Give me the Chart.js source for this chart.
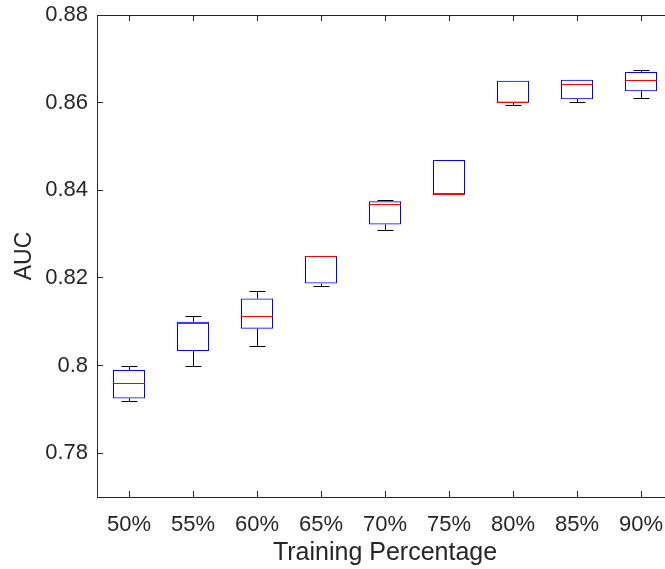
<!DOCTYPE html>
<html>
<head>
<meta charset="utf-8">
<script src="https://cdn.jsdelivr.net/npm/chart.js@4"></script>
<style>
html, body { margin: 0; padding: 0; background: #fff; overflow: hidden; }
#wrap { width: 690px; height: 569px; }
</style>
</head>
<body>
<div id="wrap"><canvas id="c" width="690" height="569"></canvas></div>
<script>
// ---- data ----
const categories = ['50%', '55%', '60%', '65%', '70%', '75%', '80%', '85%', '90%'];
const lowerWhisker = [0.7918, 0.7998, 0.8044, 0.8181, 0.8309, 0.8391, 0.8593, 0.8600, 0.8610];
const q1Values     = [0.7925, 0.8033, 0.8084, 0.8187, 0.8322, 0.8391, 0.8600, 0.8608, 0.8626];
const medianValues = [0.7958, 0.8097, 0.8113, 0.8250, 0.8367, 0.8391, 0.8601, 0.8642, 0.8650];
const q3Values     = [0.7990, 0.8100, 0.8153, 0.8250, 0.8375, 0.8469, 0.8650, 0.8652, 0.8670];
const upperWhisker = [0.7998, 0.8112, 0.8168, 0.8250, 0.8376, 0.8469, 0.8650, 0.8652, 0.8674];
const yTickValues  = [0.78, 0.80, 0.82, 0.84, 0.86, 0.88];
const yTickLabels  = ['0.78', '0.8', '0.82', '0.84', '0.86', '0.88'];
const yMin = 0.77, yMax = 0.88;

const AXIS_COLOR = '#262626';
const FONT = '"Liberation Sans", Arial, Helvetica, sans-serif';

const crisp = v => Math.floor(v) + 0.5;

const boxParts = {
  id: 'boxParts',
  beforeDatasetsDraw(chart) {
    const { ctx, scales: { x, y } } = chart;
    const catW = x.width / categories.length;
    const capHalf = catW * 0.125;
    ctx.save();
    ctx.strokeStyle = '#000000';
    ctx.lineWidth = 1;
    categories.forEach((c, i) => {
      const xc = crisp(x.getPixelForValue(i));
      const yQ3 = y.getPixelForValue(q3Values[i]);
      const yQ1 = y.getPixelForValue(q1Values[i]);
      ctx.beginPath();
      if (upperWhisker[i] - q3Values[i] > 1e-6) {
        const yUW = crisp(y.getPixelForValue(upperWhisker[i]));
        ctx.moveTo(xc, yQ3); ctx.lineTo(xc, yUW);
        ctx.moveTo(xc - capHalf, yUW); ctx.lineTo(xc + capHalf, yUW);
      }
      if (q1Values[i] - lowerWhisker[i] > 1e-6) {
        const yLW = crisp(y.getPixelForValue(lowerWhisker[i]));
        ctx.moveTo(xc, yQ1); ctx.lineTo(xc, yLW);
        ctx.moveTo(xc - capHalf, yLW); ctx.lineTo(xc + capHalf, yLW);
      }
      ctx.stroke();
    });
    ctx.restore();
  },
  afterDatasetsDraw(chart) {
    const { ctx, scales: { x, y } } = chart;
    const catW = x.width / categories.length;
    const boxHalf = catW * 0.25;
    ctx.save();
    ctx.strokeStyle = '#ff0000';
    ctx.lineWidth = 1;
    categories.forEach((c, i) => {
      const xc = x.getPixelForValue(i);
      const ym = crisp(y.getPixelForValue(medianValues[i]));
      ctx.beginPath();
      ctx.moveTo(xc - boxHalf, ym); ctx.lineTo(xc + boxHalf, ym);
      ctx.stroke();
    });
    ctx.restore();
  },
  afterDraw(chart) {
    const { ctx, chartArea: a, scales: { x, y } } = chart;
    const tl = 6;
    ctx.save();
    ctx.strokeStyle = AXIS_COLOR;
    ctx.lineWidth = 1;
    ctx.beginPath();
    ctx.moveTo(a.left, crisp(a.top)); ctx.lineTo(a.right, crisp(a.top));
    yTickValues.forEach(v => {
      const yy = crisp(y.getPixelForValue(v));
      ctx.moveTo(a.left, yy); ctx.lineTo(a.left + tl, yy);
    });
    categories.forEach((c, i) => {
      const xx = crisp(x.getPixelForValue(i));
      ctx.moveTo(xx, a.bottom); ctx.lineTo(xx, a.bottom - tl);
      ctx.moveTo(xx, a.top); ctx.lineTo(xx, a.top + tl);
    });
    ctx.stroke();
    ctx.restore();
  }
};

new Chart(document.getElementById('c'), {
  type: 'bar',
  data: {
    labels: categories,
    datasets: [{
      label: 'IQR',
      data: q1Values.map((v, i) => [v, q3Values[i]]),
      backgroundColor: 'rgba(0,0,0,0)',
      borderColor: '#0000ff',
      borderWidth: 1,
      borderSkipped: false,
      barPercentage: 0.5,
      categoryPercentage: 1.0
    }]
  },
  options: {
    responsive: false,
    devicePixelRatio: 1,
    animation: false,
    layout: { padding: { top: 15, right: 17, left: 0, bottom: 0 } },
    plugins: { legend: { display: false }, tooltip: { enabled: false } },
    scales: {
      x: {
        type: 'category',
        offset: true,
        grid: { display: false, drawTicks: false },
        border: { display: true, color: AXIS_COLOR, width: 1 },
        ticks: { color: AXIS_COLOR, font: { family: FONT, size: 22 }, padding: 15, maxRotation: 0, autoSkip: false },
        title: { display: true, text: 'Training Percentage', color: AXIS_COLOR, font: { family: FONT, size: 25 }, padding: { top: 0, bottom: 1 } },
        afterFit(scale) { scale.height = 72; scale.paddingLeft = 0; scale.paddingRight = 0; }
      },
      y: {
        type: 'linear',
        min: yMin,
        max: yMax,
        grid: { display: false, drawTicks: false },
        border: { display: true, color: AXIS_COLOR, width: 1 },
        ticks: {
          color: AXIS_COLOR, font: { family: FONT, size: 22 }, padding: 9,
          callback: (val) => {
            const k = yTickValues.findIndex(t => Math.abs(t - val) < 1e-9);
            return k >= 0 ? yTickLabels[k] : '';
          }
        },
        afterBuildTicks(scale) { scale.ticks = yTickValues.map(v => ({ value: v })); },
        title: { display: true, text: 'AUC', color: AXIS_COLOR, font: { family: FONT, size: 23 }, padding: { top: 11, bottom: 0 } },
        afterFit(scale) { scale.width = 97; scale.paddingTop = 0; scale.paddingBottom = 0; }
      }
    }
  },
  plugins: [boxParts]
});
</script>
</body>
</html>
